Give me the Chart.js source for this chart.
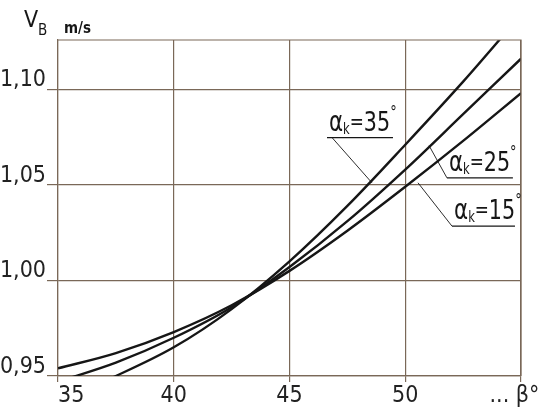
<!DOCTYPE html>
<html>
<head>
<meta charset="utf-8">
<script src="https://cdn.jsdelivr.net/npm/chart.js@4"></script>
<style>
  html, body { margin: 0; padding: 0; background: #fff; }
  #wrap { width: 538px; height: 407px; position: relative; }
</style>
</head>
<body>
<div id="wrap"><canvas id="vbChart"></canvas></div>
<script>
// beta angle (deg) and flow speed V_B (m/s) for three alpha_k values
const betaValues = [35, 37.5, 40, 42.5, 45, 47.5, 50, 52.5, 55];
const vAlpha15 = [0.954, 0.962, 0.973, 0.987, 1.005, 1.026, 1.049, 1.073, 1.098];
const vAlpha25 = [0.947, 0.957, 0.970, 0.986, 1.007, 1.031, 1.058, 1.087, 1.116];
const vAlpha35 = [0.937, 0.950, 0.965, 0.985, 1.010, 1.039, 1.071, 1.104, 1.139];
const alphaLabels = ["15", "25", "35"];

const xTicks = [35, 40, 45, 50, 55];
const yTicks = [0.95, 1.00, 1.05, 1.10];

const GRID = "#7a6858";
const INK = "#161616";
const COND = '"DejaVu Sans Condensed", "DejaVu Sans", sans-serif';

// callout placement, in data units (beta, V)
const callouts = [
  { angle: "35", tip: [48.56, 1.0511], from: [46.84, 1.0747], line: [46.62, 49.47, 1.0747] },
  { angle: "25", tip: [51.03, 1.0705], from: [51.80, 1.0537], line: [51.80, 54.65, 1.0537] },
  { angle: "15", tip: [50.55, 1.0511], from: [52.02, 1.0284], line: [52.02, 54.74, 1.0284] }
];

function toPoints(ys) {
  return betaValues.map((b, i) => ({ x: b, y: ys[i] }));
}

function drawAlpha(ctx, x, y, angle) {
  ctx.save();
  ctx.translate(x, y);
  ctx.scale(0.85, 1);
  ctx.fillStyle = INK;
  ctx.textBaseline = "alphabetic";
  ctx.textAlign = "left";
  const parts = [
    ["α", 28, 0],
    ["k", 15, 3],
    ["=", 22, -2],
    [angle, 27, 0],
    ["°", 17, -13]
  ];
  let cx = 0;
  parts.forEach(([t, size, dy]) => {
    ctx.font = `${size}px ${COND}`;
    ctx.fillText(t, cx, dy);
    cx += ctx.measureText(t).width;
  });
  ctx.restore();
}

const overlay = {
  id: "overlay",
  afterDatasetsDraw(chart) {
    const { ctx, chartArea: a, scales: { x, y } } = chart;
    ctx.save();
    // top and right frame
    ctx.strokeStyle = GRID;
    ctx.lineWidth = 1.2;
    ctx.beginPath();
    ctx.moveTo(a.left, a.top);
    ctx.lineTo(a.right, a.top);
    ctx.lineTo(a.right, a.bottom);
    ctx.stroke();

    // axis title V_B m/s
    ctx.fillStyle = INK;
    ctx.textAlign = "left";
    ctx.textBaseline = "alphabetic";
    ctx.font = `23px ${COND}`;
    ctx.fillText("V", 24, 27);
    ctx.font = `15px ${COND}`;
    ctx.fillText("B", 38, 35);
    ctx.font = `bold 15px ${COND}`;
    ctx.fillText("m/s", 64, 33);

    // callouts
    callouts.forEach(c => {
      const lx0 = x.getPixelForValue(c.line[0]);
      const lx1 = x.getPixelForValue(c.line[1]);
      const ly = y.getPixelForValue(c.line[2]);
      ctx.strokeStyle = INK;
      ctx.lineWidth = 1.3;
      ctx.beginPath();
      ctx.moveTo(lx0, ly);
      ctx.lineTo(lx1, ly);
      ctx.stroke();
      ctx.lineWidth = 0.9;
      ctx.beginPath();
      ctx.moveTo(x.getPixelForValue(c.from[0]), y.getPixelForValue(c.from[1]));
      ctx.lineTo(x.getPixelForValue(c.tip[0]), y.getPixelForValue(c.tip[1]));
      ctx.stroke();
      drawAlpha(ctx, lx0 + 2, ly - 7, c.angle);
    });
    ctx.restore();
  }
};

const series = [vAlpha15, vAlpha25, vAlpha35];

new Chart(document.getElementById("vbChart"), {
  type: "line",
  data: {
    datasets: series.map((s, i) => ({
      label: `αk=${alphaLabels[i]}°`,
      data: toPoints(s),
      borderColor: INK,
      borderWidth: 2.4,
      pointRadius: 0,
      cubicInterpolationMode: "monotone",
      fill: false,
      clip: 0
    }))
  },
  options: {
    responsive: true,
    maintainAspectRatio: false,
    animation: false,
    layout: { padding: { top: 40, right: 17, left: 0, bottom: 0 } },
    plugins: {
      legend: { display: false },
      tooltip: { enabled: false }
    },
    scales: {
      x: {
        type: "linear",
        min: 35,
        max: 55,
        afterBuildTicks: s => { s.ticks = xTicks.map(v => ({ value: v })); },
        afterFit: s => { s.height = 31; s.paddingLeft = 0; s.paddingRight = 0; },
        grid: { color: GRID, lineWidth: 1.2, tickLength: 6 },
        border: { color: GRID, width: 1.2 },
        ticks: {
          color: "#222",
          padding: 0,
          maxRotation: 0,
          font: { family: COND, size: 23 },
          callback: v => v === 35 ? "\u2007\u200735" : v === 55 ? "... β°\u2007" : String(v)
        }
      },
      y: {
        type: "linear",
        min: 0.95,
        max: 1.1258,
        afterBuildTicks: s => { s.ticks = yTicks.map(v => ({ value: v })); },
        afterFit: s => { s.width = 58; s.paddingTop = 0; s.paddingBottom = 0; },
        grid: { color: GRID, lineWidth: 1.2, tickLength: 11 },
        border: { color: GRID, width: 1.2 },
        ticks: {
          color: "#222",
          padding: 1,
          labelOffset: -9,
          font: { family: COND, size: 23 },
          callback: v => v.toFixed(2).replace(".", ",")
        }
      }
    }
  },
  plugins: [overlay]
});
</script>
</body>
</html>
